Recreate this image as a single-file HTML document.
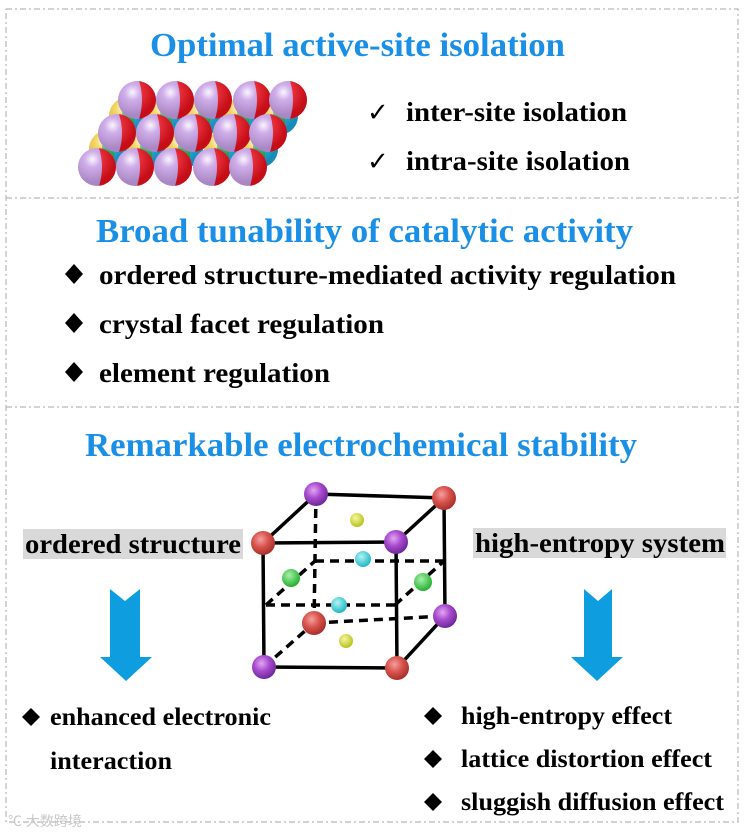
<!DOCTYPE html>
<html><head><meta charset="utf-8"><style>
html,body{margin:0;padding:0;background:#fff;}
svg{display:block;}
text{font-family:"Liberation Serif","Times New Roman",serif;font-weight:bold;}
</style></head><body>
<svg width="749" height="833" viewBox="0 0 749 833" xmlns="http://www.w3.org/2000/svg">
<defs>
<radialGradient id="hl" cx="0.38" cy="0.3" r="0.6">
<stop offset="0" stop-color="#fff" stop-opacity="0.9"/>
<stop offset="0.35" stop-color="#fff" stop-opacity="0.15"/>
<stop offset="1" stop-color="#000" stop-opacity="0.15"/>
</radialGradient>
<clipPath id="c18"><circle cx="0" cy="0" r="19"/></clipPath>
<g id="ball">
<g clip-path="url(#c18)">
<rect x="-19" y="-19" width="38" height="38" fill="#c79fe6"/>
<path d="M2,-19 Q8,0 2,19 L19,19 L19,-19 Z" fill="#e8101c"/>
</g>
<circle r="19" fill="url(#hl)"/>
</g>
<g id="mball">
<g clip-path="url(#c18)">
<rect x="-19" y="-19" width="38" height="38" fill="#f2d04a"/>
<rect x="-6" y="-19" width="12" height="38" fill="#15a84a"/>
<rect x="6" y="-19" width="13" height="38" fill="#1aa6d8"/>
</g>
<circle r="19" fill="url(#hl)"/>
</g>
<radialGradient id="gr" cx="0.4" cy="0.35" r="0.65"><stop offset="0" stop-color="#f4a0a0"/><stop offset="0.5" stop-color="#d9544e"/><stop offset="1" stop-color="#a8302c"/></radialGradient>
<radialGradient id="gp" cx="0.4" cy="0.35" r="0.65"><stop offset="0" stop-color="#e2a8f0"/><stop offset="0.5" stop-color="#a84ad0"/><stop offset="1" stop-color="#6e2a96"/></radialGradient>
<radialGradient id="gy" cx="0.4" cy="0.35" r="0.65"><stop offset="0" stop-color="#f6f7a0"/><stop offset="1" stop-color="#b8c21c"/></radialGradient>
<radialGradient id="gc" cx="0.4" cy="0.35" r="0.65"><stop offset="0" stop-color="#b0f4f4"/><stop offset="1" stop-color="#1fb8c4"/></radialGradient>
<radialGradient id="gg" cx="0.4" cy="0.35" r="0.65"><stop offset="0" stop-color="#a8f0a8"/><stop offset="1" stop-color="#22b030"/></radialGradient>
</defs>

<g fill="none" stroke="#b8b8b8" stroke-width="1.2" stroke-dasharray="6,3,2,3">
<rect x="6" y="9" width="732" height="813"/>
<line x1="6" y1="198" x2="738" y2="198"/>
<line x1="6" y1="407" x2="738" y2="407"/>
</g>

<text x="150" y="56" font-size="34" fill="#1a8fe6" textLength="415" lengthAdjust="spacingAndGlyphs">Optimal active-site isolation</text>

<g>
<use href="#mball" x="128" y="116"/><use href="#mball" x="166" y="116"/><use href="#mball" x="204" y="116"/><use href="#mball" x="243" y="116"/><use href="#mball" x="279" y="116"/>
<use href="#ball" x="137" y="100"/><use href="#ball" x="175" y="100"/><use href="#ball" x="213" y="100"/><use href="#ball" x="252" y="100"/><use href="#ball" x="288" y="100"/>
<use href="#mball" x="108" y="149"/><use href="#mball" x="146" y="149"/><use href="#mball" x="184" y="149"/><use href="#mball" x="223" y="149"/><use href="#mball" x="259" y="149"/>
<use href="#ball" x="117" y="133"/><use href="#ball" x="155" y="133"/><use href="#ball" x="193" y="133"/><use href="#ball" x="232" y="133"/><use href="#ball" x="268" y="133"/>
<use href="#ball" x="97" y="167"/><use href="#ball" x="135" y="167"/><use href="#ball" x="173" y="167"/><use href="#ball" x="212" y="167"/><use href="#ball" x="248" y="167"/>
</g>

<text x="367" y="121" font-size="26" style="font-family:'DejaVu Sans',sans-serif;font-weight:normal">✓</text>
<text x="406" y="121" font-size="27" textLength="221" lengthAdjust="spacingAndGlyphs">inter-site isolation</text>
<text x="367" y="170" font-size="26" style="font-family:'DejaVu Sans',sans-serif;font-weight:normal">✓</text>
<text x="406" y="170" font-size="27" textLength="224" lengthAdjust="spacingAndGlyphs">intra-site isolation</text>

<text x="96" y="242" font-size="34" fill="#1a8fe6" textLength="537" lengthAdjust="spacingAndGlyphs">Broad tunability of catalytic activity</text>
<polygon points="74,264 83,274 74,284 65,274" fill="#000"/>
<text x="99" y="284" font-size="27" textLength="577" lengthAdjust="spacingAndGlyphs">ordered structure-mediated activity regulation</text>
<polygon points="74,313 83,323 74,333 65,323" fill="#000"/>
<text x="99" y="333" font-size="27" textLength="285" lengthAdjust="spacingAndGlyphs">crystal facet regulation</text>
<polygon points="74,362 83,372 74,382 65,372" fill="#000"/>
<text x="99" y="382" font-size="27" textLength="231" lengthAdjust="spacingAndGlyphs">element regulation</text>

<text x="85" y="456" font-size="34" fill="#1a8fe6" textLength="552" lengthAdjust="spacingAndGlyphs">Remarkable electrochemical stability</text>

<rect x="23" y="529" width="220" height="30" fill="#d9d9d9"/>
<text x="25" y="553" font-size="27" textLength="216" lengthAdjust="spacingAndGlyphs">ordered structure</text>
<rect x="473" y="528" width="253" height="30" fill="#d9d9d9"/>
<text x="475" y="552" font-size="27" textLength="250" lengthAdjust="spacingAndGlyphs">high-entropy system</text>

<polygon points="110,589 125,601 140,589 140,657 152,657 126,681 100,657 110,657" fill="#0e9ee0"/>
<polygon points="584,589 598,601 612,589 612,657 623,657 597,681 571,657 584,657" fill="#0e9ee0"/>

<g stroke="#000" stroke-width="3.5" fill="none">
<line x1="263" y1="543" x2="396" y2="542"/>
<line x1="263" y1="543" x2="264" y2="667"/>
<line x1="264" y1="667" x2="397" y2="668"/>
<line x1="396" y1="542" x2="397" y2="668"/>
<line x1="316" y1="494" x2="444" y2="498"/>
<line x1="444" y1="498" x2="445" y2="616"/>
<line x1="263" y1="543" x2="316" y2="494"/>
<line x1="396" y1="542" x2="444" y2="498"/>
<line x1="397" y1="668" x2="445" y2="616"/>
</g>
<g stroke="#000" stroke-width="3.5" fill="none" stroke-dasharray="9,6">
<line x1="316" y1="494" x2="314" y2="623"/>
<line x1="314" y1="623" x2="445" y2="616"/>
<line x1="264" y1="667" x2="314" y2="623"/>
<line x1="266" y1="605" x2="395" y2="605"/>
<line x1="315" y1="561" x2="444" y2="561"/>
<line x1="266" y1="605" x2="315" y2="561"/>
<line x1="395" y1="605" x2="444" y2="561"/>
</g>
<circle cx="357" cy="520" r="7" fill="url(#gy)"/>
<circle cx="363" cy="559" r="8" fill="url(#gc)"/>
<circle cx="291" cy="578" r="9" fill="url(#gg)"/>
<circle cx="423" cy="582" r="9" fill="url(#gg)"/>
<circle cx="339" cy="605" r="8" fill="url(#gc)"/>
<circle cx="346" cy="641" r="7" fill="url(#gy)"/>
<circle cx="316" cy="494" r="12" fill="url(#gp)"/>
<circle cx="444" cy="498" r="12" fill="url(#gr)"/>
<circle cx="263" cy="543" r="12" fill="url(#gr)"/>
<circle cx="396" cy="542" r="12" fill="url(#gp)"/>
<circle cx="445" cy="616" r="12" fill="url(#gp)"/>
<circle cx="314" cy="623" r="12" fill="url(#gr)"/>
<circle cx="264" cy="667" r="12" fill="url(#gp)"/>
<circle cx="397" cy="668" r="12" fill="url(#gr)"/>

<polygon points="31,708 40,717 31,726 22,717" fill="#000"/>
<text x="50" y="725" font-size="25" textLength="221" lengthAdjust="spacingAndGlyphs">enhanced electronic</text>
<text x="50" y="769" font-size="25" textLength="122" lengthAdjust="spacingAndGlyphs">interaction</text>
<polygon points="433,707 442,716 433,725 424,716" fill="#000"/>
<text x="461" y="724" font-size="25" textLength="211" lengthAdjust="spacingAndGlyphs">high-entropy effect</text>
<polygon points="433,750 442,759 433,768 424,759" fill="#000"/>
<text x="461" y="767" font-size="25" textLength="251" lengthAdjust="spacingAndGlyphs">lattice distortion effect</text>
<polygon points="433,793 442,802 433,811 424,802" fill="#000"/>
<text x="461" y="810" font-size="25" textLength="263" lengthAdjust="spacingAndGlyphs">sluggish diffusion effect</text>

<text x="8" y="826" font-size="14" fill="#c8c8c8" style="font-family:'Liberation Sans','Noto Sans CJK SC',sans-serif;font-weight:normal">℃ 大数跨境</text>
</svg>
</body></html>
